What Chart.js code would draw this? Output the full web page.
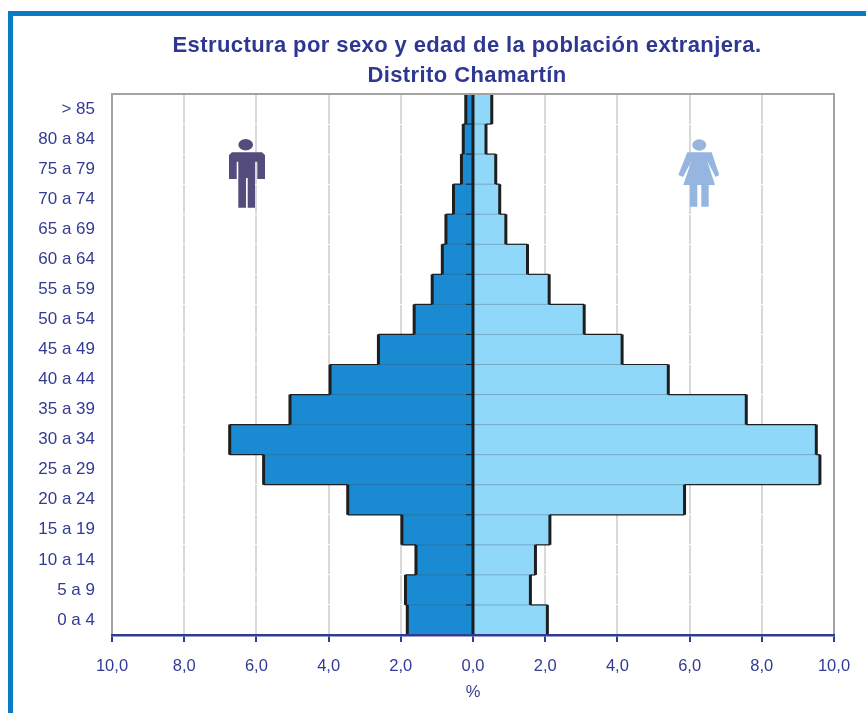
<!DOCTYPE html>
<html>
<head>
<meta charset="utf-8">
<title>Estructura por sexo y edad</title>
<script src="https://cdn.jsdelivr.net/npm/chart.js@4"></script>
<style>
  html, body { margin: 0; padding: 0; background: #fff; }
  #wrap { position: relative; width: 866px; height: 713px; overflow: hidden; }
  #frame { position: absolute; left: 8px; top: 11px; right: 0; bottom: 0; border-left: 5px solid #0a7cc3; border-top: 5px solid #0a7cc3; }
  canvas { position: absolute; left: 0; top: 0; }
  #icons { position: absolute; left: 0; top: 0; pointer-events: none; }
  #chartTitle { position: absolute; left: 67px; width: 800px; top: 30px; text-align: center; color: #2e3791;
      font: bold 22px/30px "Liberation Sans", Arial, sans-serif; letter-spacing: 0.4px; }
</style>
</head>
<body>
<div id="wrap">
  <div id="frame"></div>
  <canvas id="pyramid" width="866" height="713"></canvas>
  <div id="chartTitle"></div>
  <svg id="icons" width="866" height="713">
    <!-- hombre -->
    <ellipse cx="245.7" cy="144.7" rx="7.3" ry="5.7" fill="#544c7c"/>
    <path fill="#544c7c" d="M232 152.3 H262 L265 155 V179 H257.3 V161.7 H255 V207.7 H247.7 V178 H246 V207.7 H238.3 V161.7 H236.7 V179 H229 V155 Z"/>
    <!-- mujer -->
    <ellipse cx="699.3" cy="145" rx="7" ry="5.7" fill="#96b6e0"/>
    <path fill="#96b6e0" d="M687.3 152.3 H711.7 L719.3 175 L715.7 177 L707.2 161 L715 185 H708.7 V206.7 H701.3 V185 H697.3 V206.7 H690 V185 H683.3 L691.5 161 L683 177 L678.3 175 Z"/>
  </svg>
</div>
<script>
// --- Datos ---
const ageGroups = ['> 85', '80 a 84', '75 a 79', '70 a 74', '65 a 69', '60 a 64', '55 a 59', '50 a 54', '45 a 49',
    '40 a 44', '35 a 39', '30 a 34', '25 a 29', '20 a 24', '15 a 19', '10 a 14', '5 a 9', '0 a 4'];
const menPct = [0.2, 0.27, 0.32, 0.54, 0.75, 0.85, 1.13, 1.63, 2.62, 3.96, 5.07, 6.74, 5.8, 3.47, 1.97, 1.58, 1.87, 1.82];
const womenPct = [0.52, 0.36, 0.63, 0.74, 0.91, 1.51, 2.11, 3.08, 4.13, 5.41, 7.57, 9.51, 9.61, 5.86, 2.13, 1.73, 1.59, 2.06];
const titleLines = ['Estructura por sexo y edad de la población extranjera.', 'Distrito Chamartín'];
const axisTitle = '%';

const navy = '#333a94';
const fontFamily = '"Liberation Sans", Arial, sans-serif';

document.getElementById('chartTitle').innerHTML = titleLines.join('<br>');

// outline of the pyramid, plot frame and the ticks on the zero line
const pyramidOutline = {
    id: 'pyramidOutline',
    afterDatasetsDraw(chart) {
        const { ctx, scales: { x, y }, chartArea: area } = chart;
        const zero = x.getPixelForValue(0);
        const rowH = y.getPixelForValue(1) - y.getPixelForValue(0);
        ctx.save();

        // thin separators between the rows
        ageGroups.forEach((_, i) => {
            if (i === 0) return;
            const yy = y.getPixelForValue(i) - rowH / 2;
            const m = Math.min(menPct[i], menPct[i - 1]);
            const w = Math.min(womenPct[i], womenPct[i - 1]);
            ctx.lineWidth = 1;
            ctx.strokeStyle = '#2478ad';
            ctx.beginPath();
            ctx.moveTo(x.getPixelForValue(-m), yy);
            ctx.lineTo(zero, yy);
            ctx.stroke();
            ctx.strokeStyle = '#74a9c6';
            ctx.beginPath();
            ctx.moveTo(zero, yy);
            ctx.lineTo(x.getPixelForValue(w), yy);
            ctx.stroke();
        });

        // black stepped edge, men then women
        ctx.strokeStyle = '#1e1e1e';
        [[menPct, -1], [womenPct, 1]].forEach(([vals, sign]) => {
            vals.forEach((v, i) => {
                const yc = y.getPixelForValue(i);
                const px = x.getPixelForValue(sign * v);
                ctx.lineWidth = 3;
                ctx.beginPath();
                ctx.moveTo(px, yc - rowH / 2);
                ctx.lineTo(px, yc + rowH / 2);
                ctx.stroke();
                if (i > 0) {
                    ctx.lineWidth = 1.2;
                    ctx.beginPath();
                    ctx.moveTo(x.getPixelForValue(sign * vals[i - 1]), yc - rowH / 2);
                    ctx.lineTo(px, yc - rowH / 2);
                    ctx.stroke();
                }
            });
        });

        // zero line with its small ticks
        ctx.lineWidth = 3;
        ctx.beginPath();
        ctx.moveTo(zero, area.top);
        ctx.lineTo(zero, area.bottom);
        ctx.stroke();
        ctx.lineWidth = 1;
        ageGroups.forEach((_, i) => {
            const yy = y.getPixelForValue(i) + rowH / 2;
            ctx.beginPath();
            ctx.moveTo(zero - 7, yy);
            ctx.lineTo(zero, yy);
            ctx.stroke();
        });

        // grey frame
        ctx.strokeStyle = '#a3a3a3';
        ctx.lineWidth = 2;
        ctx.beginPath();
        ctx.moveTo(area.left, area.bottom);
        ctx.lineTo(area.left, area.top);
        ctx.lineTo(area.right, area.top);
        ctx.lineTo(area.right, area.bottom);
        ctx.stroke();
        ctx.restore();
    }
};

new Chart(document.getElementById('pyramid').getContext('2d'), {
    type: 'bar',
    data: {
        labels: ageGroups,
        datasets: [
            { label: 'Hombres', data: menPct.map(v => -v), backgroundColor: '#1a8ad2' },
            { label: 'Mujeres', data: womenPct, backgroundColor: '#90d8fa' }
        ]
    },
    plugins: [pyramidOutline],
    options: {
        indexAxis: 'y',
        responsive: false,
        animation: false,
        barPercentage: 1,
        categoryPercentage: 1,
        layout: { padding: { left: 0, right: 32, top: 94, bottom: 11 } },
        plugins: {
            legend: { display: false },
            tooltip: { enabled: false }
        },
        scales: {
            x: {
                min: -10,
                max: 10,
                stacked: true,
                afterFit: s => { s.height = 67; },
                grid: { color: '#d9d9d9', lineWidth: 2, tickColor: navy, tickLength: 7, tickWidth: 2 },
                border: { color: navy, width: 2.5, z: 1 },
                ticks: {
                    stepSize: 2,
                    maxRotation: 0,
                    color: navy,
                    padding: 15,
                    font: { family: fontFamily, size: 16.5 },
                    callback: v => Math.abs(v).toFixed(1).replace('.', ',')
                },
                title: {
                    display: true,
                    text: axisTitle,
                    color: navy,
                    font: { family: fontFamily, size: 16.5 },
                    padding: { top: 6, bottom: 0 }
                }
            },
            y: {
                stacked: true,
                afterFit: s => { s.width = 112; },
                grid: { color: '#ffffff', lineWidth: 1, drawTicks: false },
                border: { display: false },
                ticks: {
                    color: navy,
                    padding: 17,
                    autoSkip: false,
                    font: { family: fontFamily, size: 17 }
                }
            }
        }
    }
});
</script>
</body>
</html>
